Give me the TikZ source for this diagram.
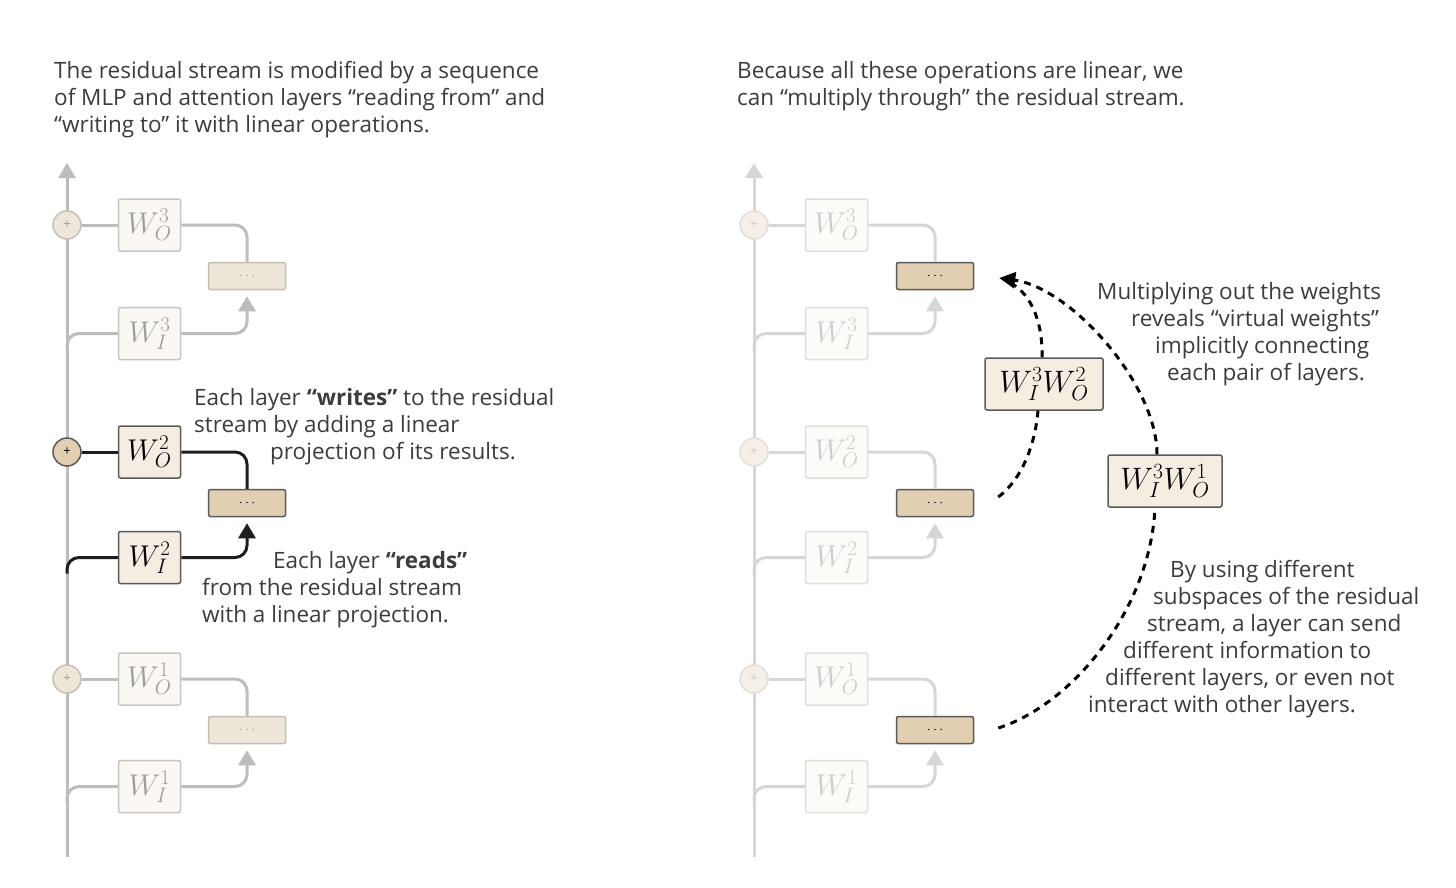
\RequirePackage{fix-cm}
\documentclass[tikz,border=0pt]{standalone}
\usepackage{fontspec}
\setmainfont{Open Sans}
\usepackage{xcolor}
\usepackage{tikz}
\usetikzlibrary{arrows.meta, positioning, calc}

\definecolor{txtgray}{HTML}{3C3C3C}
\definecolor{lnfade}{HTML}{BDBDBD}
\definecolor{lnghost}{HTML}{D6D6D6}
\definecolor{lndark}{HTML}{1E1E1E}
\definecolor{wfill}{HTML}{FBF7F2}
\definecolor{wline}{HTML}{C9C5C0}
\definecolor{wtext}{HTML}{9E9E9E}
\definecolor{gfill}{HTML}{FDFBF8}
\definecolor{gline}{HTML}{E2DFDB}
\definecolor{gtext}{HTML}{CDCDCD}
\definecolor{hfill}{HTML}{F6EDE2}
\definecolor{hline}{HTML}{5A5A5A}
\definecolor{tanfade}{HTML}{EFE6DA}
\definecolor{tanline}{HTML}{C6BEB4}
\definecolor{tandark}{HTML}{E2CEB0}
\definecolor{tanghost}{HTML}{F5EFE7}

\begin{document}
\begin{tikzpicture}[
    x=1pt, y=-1pt,
    wb/.style     = {rectangle, rounded corners=2pt, minimum width=62pt,
                     minimum height=52pt, inner sep=0pt, line width=1.5pt,
                     font=\fontsize{30}{34}\selectfont},
    wfade/.style  = {wb, draw=wline, fill=wfill, text=wtext},
    wghost/.style = {wb, draw=gline, fill=gfill, text=gtext},
    wdark/.style  = {wb, draw=hline, fill=hfill, text=black},
    dots/.style   = {rectangle, rounded corners=2pt, minimum width=77pt,
                     minimum height=27pt, inner sep=0pt, line width=1.5pt,
                     font=\fontsize{14}{14}\selectfont},
    dfade/.style  = {dots, draw=tanline, fill=tanfade, text=wtext},
    ddark/.style  = {dots, draw=hline, fill=tandark, text=black},
    plus/.style   = {circle, minimum size=28pt, inner sep=0pt, line width=1.5pt,
                     font=\fontsize{13}{13}\selectfont},
    pfade/.style  = {plus, draw=tanline, fill=tanfade, text=wtext},
    pghost/.style = {plus, draw=gline, fill=tanghost, text=gtext},
    pdark/.style  = {plus, draw=hline, fill=tandark, text=black},
    lin/.style    = {line width=3pt, rounded corners=12pt},
    tip/.style    = {-{Triangle[length=15pt,width=17pt]}},
    vw/.style     = {rectangle, rounded corners=2pt, draw=hline, fill=hfill,
                     line width=1.5pt, minimum height=52pt, inner xsep=6pt,
                     text=black, font=\fontsize{31}{35}\selectfont},
    vpath/.style  = {line width=3pt, dash pattern=on 7pt off 6pt, black},
    txt/.style    = {anchor=north west, inner sep=0pt, align=left, text=txtgray,
                     font=\fontsize{22.5}{27}\selectfont}
  ]
  \fill[white] (0,0) rectangle (1456,888);
  \useasboundingbox (0,0) rectangle (1456,888);

  % captions
  \node[txt] (capl) at (54,61) {The residual stream is modified by a sequence\\
    of MLP and attention layers “reading from” and\\
    “writing to” it with linear operations.};
  \node[txt] (capr) at (737,61) {Because all these operations are linear, we\\
    can “multiply through” the residual stream.};

  % left panel: residual stream
  \coordinate (sbot) at (67,857);
  \coordinate (stop) at (67,163);
  \draw[lin, lnfade, tip] (sbot) -- (stop);

  \node[pfade] (p3) at (67,225) {+};
  \node[wfade, right=36pt of p3] (wo3) {$W_O^3$};
  \node[wfade, below=55pt of wo3] (wi3) {$W_I^3$};
  \node[dfade] (d3) at (247,276) {$\cdots$};

  \node[pdark] (p2) at (67,452) {+};
  \node[wdark, right=36pt of p2] (wo2) {$W_O^2$};
  \node[wdark, below=52pt of wo2] (wi2) {$W_I^2$};
  \node[ddark] (d2) at (247,503) {$\cdots$};

  \node[pfade] (p1) at (67,679) {+};
  \node[wfade, right=36pt of p1] (wo1) {$W_O^1$};
  \node[wfade, below=54pt of wo1] (wi1) {$W_I^1$};
  \node[dfade] (d1) at (247,730) {$\cdots$};

  \draw[lin, lnfade] (p3) -- (wo3);
  \draw[lin, lnfade] (wo3) -| (d3);
  \draw[lin, lnfade] ($(wi3.west -| p3)+(0,16)$) |- (wi3);
  \draw[lin, lnfade, tip] (wi3) -| ($(d3.south)+(0,6)$);

  \draw[lin, lndark] (p2) -- (wo2);
  \draw[lin, lndark] (wo2) -| (d2);
  \draw[lin, lndark] ($(wi2.west -| p2)+(0,16)$) |- (wi2);
  \draw[lin, lndark, tip] (wi2) -| ($(d2.south)+(0,6)$);

  \draw[lin, lnfade] (p1) -- (wo1);
  \draw[lin, lnfade] (wo1) -| (d1);
  \draw[lin, lnfade] ($(wi1.west -| p1)+(0,16)$) |- (wi1);
  \draw[lin, lnfade, tip] (wi1) -| ($(d1.south)+(0,6)$);

  \node[txt] (writes) at (194,388) {Each layer \textbf{“writes”} to the residual\\
    stream by adding a linear\\
    \hspace*{76pt}projection of its results.};
  \node[txt] (reads) at (202,551) {\hspace*{71pt}Each layer \textbf{“reads”}\\
    from the residual stream\\
    with a linear projection.};

  % right panel: same stream, faded
  \coordinate (sbotr) at (754,857);
  \coordinate (stopr) at (754,163);
  \draw[lin, lnghost, tip] (sbotr) -- (stopr);

  \node[pghost] (p3r) at (754,225) {+};
  \node[wghost, right=36pt of p3r] (wo3r) {$W_O^3$};
  \node[wghost, below=55pt of wo3r] (wi3r) {$W_I^3$};
  \node[ddark] (d3r) at (935,276) {$\cdots$};

  \node[pghost] (p2r) at (754,452) {+};
  \node[wghost, right=36pt of p2r] (wo2r) {$W_O^2$};
  \node[wghost, below=52pt of wo2r] (wi2r) {$W_I^2$};
  \node[ddark] (d2r) at (935,503) {$\cdots$};

  \node[pghost] (p1r) at (754,679) {+};
  \node[wghost, right=36pt of p1r] (wo1r) {$W_O^1$};
  \node[wghost, below=54pt of wo1r] (wi1r) {$W_I^1$};
  \node[ddark] (d1r) at (935,730) {$\cdots$};

  \draw[lin, lnghost] (p3r) -- (wo3r);
  \draw[lin, lnghost] (wo3r) -| (d3r);
  \draw[lin, lnghost] ($(wi3r.west -| p3r)+(0,16)$) |- (wi3r);
  \draw[lin, lnghost, tip] (wi3r) -| ($(d3r.south)+(0,6)$);

  \draw[lin, lnghost] (p2r) -- (wo2r);
  \draw[lin, lnghost] (wo2r) -| (d2r);
  \draw[lin, lnghost] ($(wi2r.west -| p2r)+(0,16)$) |- (wi2r);
  \draw[lin, lnghost, tip] (wi2r) -| ($(d2r.south)+(0,6)$);

  \draw[lin, lnghost] (p1r) -- (wo1r);
  \draw[lin, lnghost] (wo1r) -| (d1r);
  \draw[lin, lnghost] ($(wi1r.west -| p1r)+(0,16)$) |- (wi1r);
  \draw[lin, lnghost, tip] (wi1r) -| ($(d1r.south)+(0,6)$);

  % virtual weights
  \coordinate (va) at ($(d2r.east)+(24,-6)$);
  \coordinate (vb) at ($(d1r.east)+(24,-2)$);
  \coordinate (vt) at ($(d3r.east)+(25,2)$);
  \node[vw, minimum width=118pt] (v32) at (1044,384) {$W_I^3W_O^2$};
  \node[vw, minimum width=114pt] (v31) at (1165,481) {$W_I^3W_O^1$};

  \draw[vpath] (va) .. controls +(23,-17) and +(-3,35) .. ($(v32.south)+(-6,0)$);
  \draw[vpath, shorten >=7pt] ($(v32.north)+(-2,0)$) .. controls +(1,-38) and +(30,12) .. (vt);
  \draw[vpath] (vb) .. controls +(73,-23) and +(-5,103) .. ($(v31.south)+(-10,0)$);
  \draw[vpath, -{Triangle[length=16pt,width=16pt]}] ($(v31.north)+(-8,0)$)
    .. controls +(0,-70) and +(72,10) .. (vt);

  \node[txt] (multiply) at (1097,282) {Multiplying out the weights\\
    \hspace*{34pt}reveals “virtual weights”\\
    \hspace*{58pt}implicitly connecting\\
    \hspace*{70pt}each pair of layers.};
  \node[txt] (subspace) at (1088,560) {\hspace*{82pt}By using different\\
    \hspace*{65pt}subspaces of the residual\\
    \hspace*{59pt}stream, a layer can send\\
    \hspace*{35pt}different information to\\
    \hspace*{17pt}different layers, or even not\\
    interact with other layers.};
\end{tikzpicture}
\end{document}
